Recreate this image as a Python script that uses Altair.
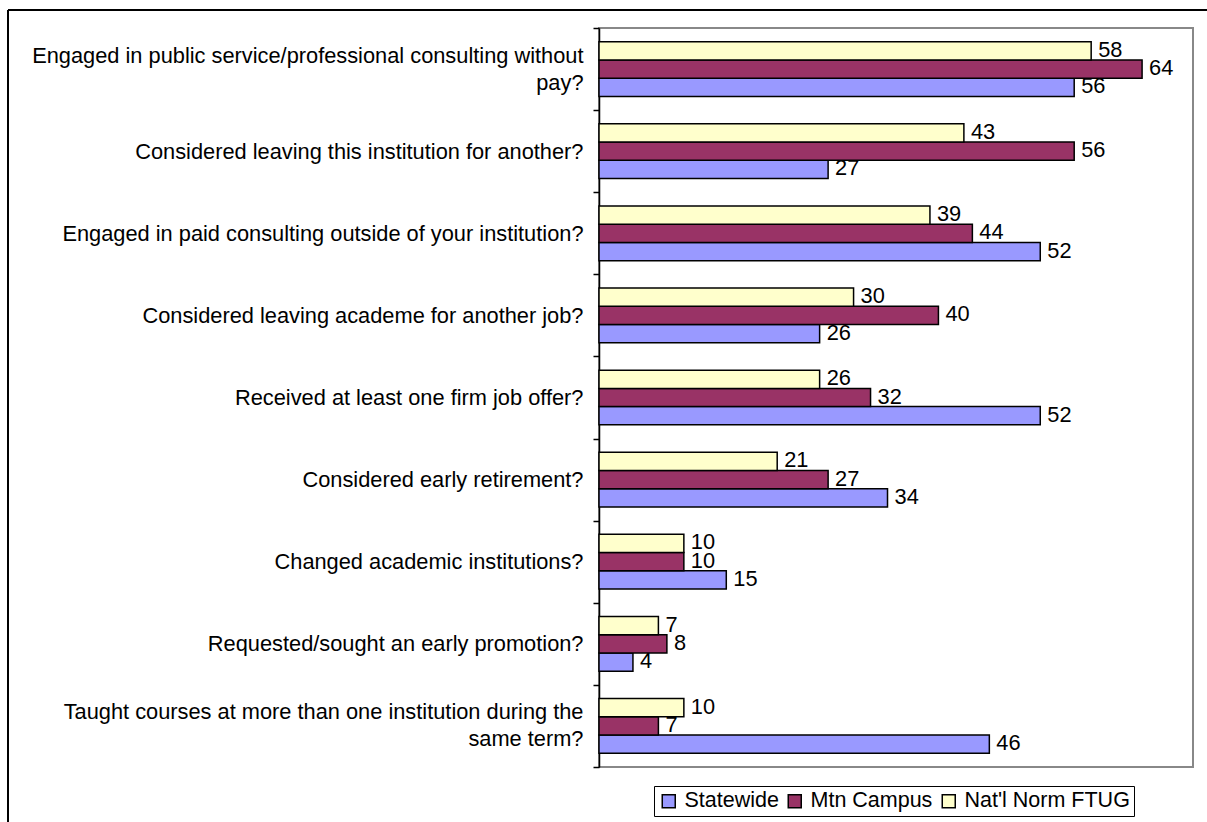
import altair as alt
import pandas as pd

questions = [
    "Engaged in public service/professional consulting without|pay?",
    "Considered leaving this institution for another?",
    "Engaged in paid consulting outside of your institution?",
    "Considered leaving academe for another job?",
    "Received at least one firm job offer?\u00a0",
    "Considered early retirement?\u00a0",
    "Changed academic institutions?",
    "Requested/sought an early promotion?\u00a0",
    "Taught courses at more than one institution during the|same term?",
]
series = ["Statewide", "Mtn Campus", "Nat'l Norm FTUG"]
statewide = [56, 27, 52, 26, 52, 34, 15, 4, 46]
mtn_campus = [64, 56, 44, 40, 32, 27, 10, 8, 7]
natl_norm = [58, 43, 39, 30, 26, 21, 10, 7, 10]
colors = ["#9999FF", "#993366", "#FFFFCC"]

rows = []
for q, s, m, n in zip(questions, statewide, mtn_campus, natl_norm):
    rows.append({"q": q, "series": series[0], "v": s})
    rows.append({"q": q, "series": series[1], "v": m})
    rows.append({"q": q, "series": series[2], "v": n})
df = pd.DataFrame(rows)

FONT = "Liberation Sans"
FS = 21.8
W, H = 594, 739

base = alt.Chart(df).encode(
    y=alt.Y(
        "q:N",
        sort=questions,
        scale=alt.Scale(paddingInner=0, paddingOuter=0),
        axis=alt.Axis(
            title=None,
            labelExpr="split(datum.label, '|')",
            labelFont=FONT,
            labelFontSize=FS,
            labelColor="black",
            labelLineHeight=27,
            labelPadding=10,
            labelLimit=0,
            labelOffset={"expr": "indexof(datum.label, '|') >= 0 ? -14 : 0"},
            tickBand="extent",
            tickSize=6,
            tickColor="black",
            domainColor="black",
            tickWidth=1.5,
            domainWidth=1.5,
            grid=False,
        ),
    ),
    yOffset=alt.YOffset(
        "series:N",
        sort=["Nat'l Norm FTUG", "Mtn Campus", "Statewide"],
        scale=alt.Scale(paddingInner=0, paddingOuter=0.75),
    ),
    x=alt.X("v:Q", scale=alt.Scale(domain=[0, 70], nice=False), axis=None),
)

bars = base.mark_bar(stroke="black", strokeWidth=1.5).encode(
    color=alt.Color(
        "series:N",
        scale=alt.Scale(domain=series, range=colors),
        legend=alt.Legend(
            title=None,
            orient="none",
            direction="horizontal",
            legendX=55,
            legendY=758,
            labelFont=FONT,
            labelFontSize=21.5,
            labelColor="black",
            labelLimit=0,
            symbolType="square",
            symbolSize=169,
            symbolStrokeColor="black",
            symbolStrokeWidth=1.5,
            labelOffset=5,
            columnPadding=5,
            strokeColor="black",
            fillColor="white",
            padding=4,
        ),
    )
)

labels = base.mark_text(
    align="left", baseline="middle", dx=7, dy=-1, font=FONT, fontSize=FS, color="black"
).encode(text=alt.Text("v:Q"))

frame_top = alt.Chart(df).mark_rule(color="black", strokeWidth=1.5).encode(
    x=alt.value(-591), x2=alt.value(620), y=alt.value(-18)
)
frame_left = alt.Chart(df).mark_rule(color="black", strokeWidth=1.5).encode(
    x=alt.value(-591), y=alt.value(-18), y2=alt.value(800)
)

chart = (
    alt.layer(bars, labels, frame_top, frame_left)
    .properties(
        width=W,
        height=H,
        autosize=alt.AutoSizeParams(type="none"),
        padding={"left": 599, "top": 28, "right": 14, "bottom": 55},
        background="white",
    )
    .configure_view(stroke="#888888", strokeWidth=2)
)

chart.save("out.html", embed_options={"renderer": "svg", "actions": False})
